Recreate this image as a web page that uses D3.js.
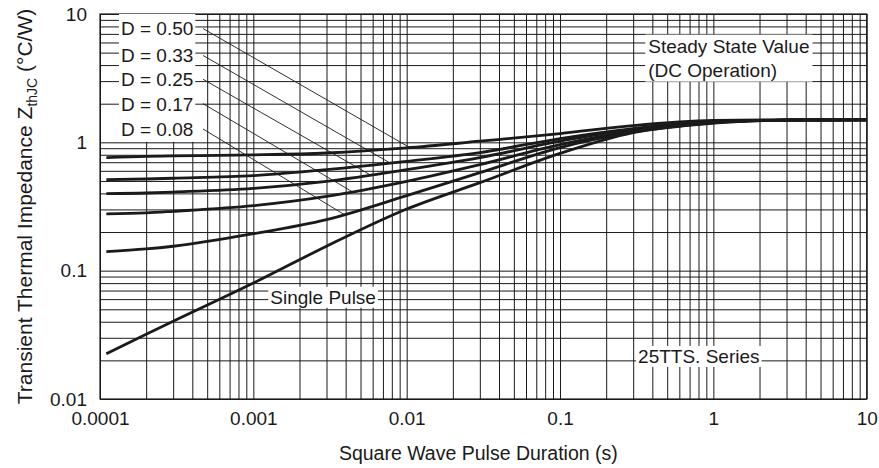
<!DOCTYPE html>
<html>
<head>
<meta charset="utf-8">
<script src="https://cdn.jsdelivr.net/npm/d3@7"></script>
<style>
  body { margin: 0; background: #fff; }
  svg text { font-family: Arial, "Liberation Sans", sans-serif; fill: #1a1a1a; }
</style>
</head>
<body>
<svg id="chart" width="879" height="468"></svg>
<script>
// pulse durations (s) where the curves were read
const durations = [0.00011, 0.0002, 0.0003, 0.001, 0.003, 0.01, 0.03, 0.1, 0.3, 1, 3, 10];

// Z_thJC (°C/W) per duty cycle
const zD50    = [0.76,  0.778,  0.783,  0.798, 0.826, 0.904, 1.02,  1.17, 1.35, 1.48, 1.50, 1.50];
const zD33    = [0.512, 0.518,  0.525,  0.550, 0.612, 0.711, 0.831, 1.07, 1.28, 1.45, 1.49, 1.50];
const zD25    = [0.398, 0.403,  0.41,   0.438, 0.497, 0.612, 0.760, 1.02, 1.26, 1.44, 1.49, 1.50];
const zD17    = [0.277, 0.282,  0.290,  0.321, 0.379, 0.497, 0.670, 0.96, 1.22, 1.43, 1.49, 1.50];
const zD08    = [0.1406, 0.1476, 0.155, 0.194, 0.250, 0.384, 0.580, 0.91, 1.20, 1.42, 1.49, 1.50];
const zSingle = [0.0225, 0.032, 0.0403, 0.080, 0.155, 0.302, 0.485, 0.82, 1.19, 1.41, 1.49, 1.50];

const dutyLabels = ["D = 0.50", "D = 0.33", "D = 0.25", "D = 0.17", "D = 0.08"];
const dutySeries = [zD50, zD33, zD25, zD17, zD08];
// where each label sits (°C/W) and where its leader line meets the curve (s)
const dutyLabelZ = [7.7, 4.75, 3.1, 2.0, 1.27];
const leaderEndT = [0.0105, 0.0078, 0.0058, 0.0044, 0.0039];

const xTicks = [0.0001, 0.001, 0.01, 0.1, 1, 10];
const xTickLabels = ["0.0001", "0.001", "0.01", "0.1", "1", "10"];
const yTicks = [0.01, 0.1, 1, 10];
const yTickLabels = ["0.01", "0.1", "1", "10"];

const margin = { top: 14, right: 12.3, bottom: 69, left: 100 };
const width = 879 - margin.left - margin.right;
const height = 468 - margin.top - margin.bottom;

const svg = d3.select("#chart");
const g = svg.append("g").attr("transform", `translate(${margin.left},${margin.top})`);

const x = d3.scaleLog().domain([0.0001, 10]).range([0, width]);
const y = d3.scaleLog().domain([0.01, 10]).range([height, 0]);

// grid from the minor ticks
const gridX = g.append("g")
  .attr("transform", `translate(0,${height})`)
  .call(d3.axisBottom(x).tickValues(x.ticks()).tickSize(-height).tickFormat(""));
const gridY = g.append("g")
  .call(d3.axisLeft(y).tickValues(y.ticks()).tickSize(-width).tickFormat(""));
[gridX, gridY].forEach(a => {
  a.select(".domain").remove();
  a.selectAll("line").attr("stroke", "#1a1a1a").attr("stroke-width", 1);
});

g.append("rect")
  .attr("width", width).attr("height", height)
  .attr("fill", "none").attr("stroke", "#1a1a1a").attr("stroke-width", 1.2);

// tick labels
const axX = g.append("g")
  .attr("transform", `translate(0,${height})`)
  .call(d3.axisBottom(x).tickValues(xTicks).tickSize(0).tickPadding(13)
    .tickFormat((d, i) => xTickLabels[i]));
const axY = g.append("g")
  .call(d3.axisLeft(y).tickValues(yTicks).tickSize(0).tickPadding(13)
    .tickFormat((d, i) => yTickLabels[i]));
[axX, axY].forEach(a => {
  a.select(".domain").remove();
  a.selectAll("text").attr("font-size", 19).attr("font-family", null).attr("fill", "#1a1a1a");
});

// curves
const line = d3.line()
  .x((d, i) => x(durations[i]))
  .y(d => y(d))
  .curve(d3.curveMonotoneX);

g.selectAll("path.curve").data([...dutySeries, zSingle]).join("path")
  .attr("class", "curve")
  .attr("d", line)
  .attr("fill", "none")
  .attr("stroke", "#1a1a1a")
  .attr("stroke-width", 2.8)
  .attr("stroke-linejoin", "round");

// log-log interpolation to put leader ends on the curves
function zAt(values, t) {
  const lt = Math.log10(t);
  for (let i = 0; i < durations.length - 1; i++) {
    const a = Math.log10(durations[i]), b = Math.log10(durations[i + 1]);
    if (lt >= a && lt <= b) {
      const f = (lt - a) / (b - a);
      return Math.pow(10, Math.log10(values[i]) * (1 - f) + Math.log10(values[i + 1]) * f);
    }
  }
  return values[values.length - 1];
}

// text annotations with white backing boxes
function boxedText(parent, lines, tx, tz, pad) {
  const grp = parent.append("g");
  const rect = grp.append("rect").attr("fill", "#fff");
  const txt = grp.append("text")
    .attr("x", x(tx)).attr("y", y(tz))
    .attr("font-size", 19);
  lines.forEach((s, i) => {
    txt.append("tspan").attr("x", x(tx)).attr("dy", i === 0 ? 0 : 24).text(s);
  });
  const bb = txt.node().getBBox();
  rect.attr("x", bb.x - pad[0]).attr("y", bb.y - pad[1])
    .attr("width", bb.width + pad[0] * 2).attr("height", bb.height + pad[1] * 2);
  return grp;
}

boxedText(g, ["Steady State Value", "(DC Operation)"], 0.376, 5.0, [3, 1]);
boxedText(g, ["Single Pulse"], 0.00129, 0.0553, [2, 0]);
boxedText(g, ["25TTS. Series"], 0.323, 0.0191, [2, 0]);

// duty cycle labels
const dGroup = g.append("g");
const dRect = dGroup.append("rect").attr("fill", "#fff");
dGroup.selectAll("text").data(dutyLabels).join("text")
  .attr("x", x(0.000137))
  .attr("y", (d, i) => y(dutyLabelZ[i]))
  .attr("dy", "0.36em")
  .attr("font-size", 19)
  .text(d => d);
const dbb = dGroup.node().getBBox();
dRect.attr("x", dbb.x - 2).attr("y", 0)
  .attr("width", dbb.width + 4).attr("height", dbb.y + dbb.height + 2);

g.selectAll("line.leader").data(dutyLabels).join("line")
  .attr("class", "leader")
  .attr("x1", x(0.00047))
  .attr("y1", (d, i) => y(dutyLabelZ[i]))
  .attr("x2", (d, i) => x(leaderEndT[i]))
  .attr("y2", (d, i) => y(zAt(dutySeries[i], leaderEndT[i])))
  .attr("stroke", "#1a1a1a")
  .attr("stroke-width", 0.9);

// axis titles
svg.append("text")
  .attr("x", margin.left + width / 2 - 5)
  .attr("y", 460)
  .attr("text-anchor", "middle")
  .attr("font-size", 19.5)
  .text("Square Wave Pulse Duration (s)");

const yTitle = svg.append("text")
  .attr("transform", "translate(32,206.5) rotate(-90)")
  .attr("text-anchor", "middle")
  .attr("font-size", 21);
yTitle.append("tspan").text("Transient Thermal Impedance Z");
yTitle.append("tspan").attr("font-size", 14).attr("dy", 5).text("thJC");
yTitle.append("tspan").attr("dy", -5).text(" (°C/W)");
</script>
</body>
</html>
